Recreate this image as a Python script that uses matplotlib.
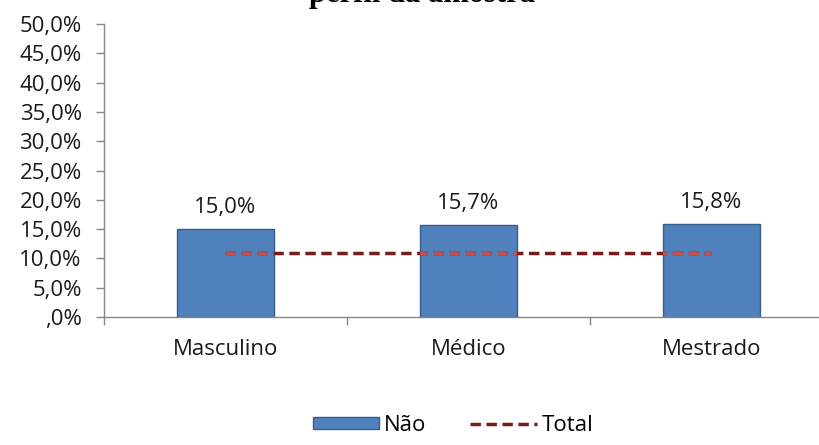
import matplotlib
matplotlib.use("Agg")
import matplotlib.pyplot as plt

# data
categories = ["Masculino", "Médico", "Mestrado"]
nao_values = [15.0, 15.7, 15.8]
total_values = [10.9, 10.9, 10.9]
y_ticks = [0, 5, 10, 15, 20, 25, 30, 35, 40, 45, 50]
y_tick_labels = [",0%", "5,0%", "10,0%", "15,0%", "20,0%", "25,0%",
                 "30,0%", "35,0%", "40,0%", "45,0%", "50,0%"]
title_text = "perfil da amostra"

plt.rcParams['font.family'] = ['Open Sans', 'DejaVu Sans']
fs = 16

fig = plt.figure(figsize=(8.19, 4.45), dpi=100)
ax = fig.add_axes([0.127, 0.2876, 1.017 - 0.127, 0.658])

x = list(range(len(categories)))
bars = ax.bar(x, nao_values, width=0.4, color="#4F81BD", edgecolor="#385D8A",
              linewidth=1.0, label="Não", zorder=2)

# total line: dark over the background, lighter where it crosses the bars
line, = ax.plot(x, total_values, color="#7B1A1A", linewidth=2.5,
                dashes=(3, 1.6), label="Total", zorder=3)
for b in bars:
    seg, = ax.plot(x, total_values, color="#C0504D", linewidth=2.5,
                   dashes=(3, 1.6), zorder=4)
    seg.set_clip_path(b)

for xi, v in zip(x, nao_values):
    ax.annotate(f"{v:.1f}%".replace(".", ","), (xi, v), xytext=(0, 8),
                textcoords="offset points", ha="center", va="bottom",
                fontsize=fs, color="#1a1a1a")

ax.set_xlim(-0.5, len(categories) - 0.5)
ax.set_ylim(0, 50)
ax.set_yticks(y_ticks)
ax.set_yticklabels(y_tick_labels)
ax.set_xticks(x)
ax.set_xticklabels(categories)
ax.set_xticks([i - 0.5 for i in range(len(categories) + 1)], minor=True)

ax.tick_params(axis="y", length=6, width=1, color="#868686", pad=10,
               labelsize=fs, labelcolor="#1a1a1a")
ax.tick_params(axis="x", which="major", length=0, pad=16, labelsize=fs,
               labelcolor="#1a1a1a")
ax.tick_params(axis="x", which="minor", length=6, width=1, color="#868686")

for s in ["top", "right"]:
    ax.spines[s].set_visible(False)
for s in ["left", "bottom"]:
    ax.spines[s].set_color("#868686")
    ax.spines[s].set_linewidth(1)

# title is clipped by the top edge in the original, only its lower part shows
fig.text(0.515, 0.9966, title_text, ha="center", va="baseline", fontsize=22,
         family="Liberation Serif", fontweight="bold")

fig.legend([bars, line], ["Não", "Total"], loc="center",
           bbox_to_anchor=(0.553, 0.043), ncol=2, frameon=False,
           fontsize=fs, handlelength=3.0, handleheight=0.45,
           handletextpad=0.2, columnspacing=2.0)

fig.savefig("out.png", dpi=100)
